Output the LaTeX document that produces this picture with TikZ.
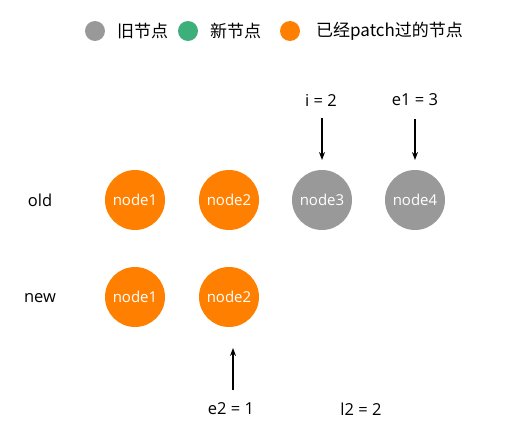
\documentclass[tikz,border=0pt]{standalone}
\usepackage{fontspec}
\setmainfont{Open Sans}
\newfontfamily\cjk{Noto Sans CJK SC}
\usetikzlibrary{arrows.meta}
\definecolor{oldgray}{HTML}{999999}
\definecolor{newgreen}{HTML}{3DAF7A}
\definecolor{patchorange}{HTML}{FF8000}
\begin{document}
\begin{tikzpicture}[x=1pt,y=-1pt,
  vnode/.style={circle,minimum size=60pt,inner sep=0pt,text=white,font=\fontsize{15}{16}\selectfont},
  patched/.style={vnode,fill=patchorange},
  oldnode/.style={vnode,fill=oldgray},
  lbl/.style={font=\fontsize{16.5}{17}\selectfont,inner sep=0pt},
  legdot/.style={circle,minimum size=20pt,inner sep=0pt},
  legtxt/.style={font=\cjk\fontsize{17}{18}\selectfont,anchor=west,inner sep=0pt},
  ptr/.style={-{Stealth[length=8pt,width=6pt]},line width=1.3pt}]
\useasboundingbox (0,0) rectangle (506,441);
% legend
\node[legdot,fill=oldgray] (lg1) at (95,31) {};
\node[legtxt] (lt1) at (117,31) {旧节点};
\node[legdot,fill=newgreen] (lg2) at (188,31) {};
\node[legtxt] (lt2) at (210,31) {新节点};
\node[legdot,fill=patchorange] (lg3) at (290,31) {};
\node[legtxt] (lt3) at (316,31) {已经patch过的节点};
% rows
\node[lbl] (old) at (40,200) {old};
\node[lbl] (new) at (40,298) {new};
\node[patched] (o1) at (135,200) {node1};
\node[patched] (o2) at (229,200) {node2};
\node[oldnode] (o3) at (322,200) {node3};
\node[oldnode] (o4) at (415,200) {node4};
\node[patched] (n1) at (135,297) {node1};
\node[patched] (n2) at (229,297) {node2};
% pointers
\node[lbl] (i) at (321,100) {i = 2};
\node[lbl] (e1) at (415,100) {e1 = 3};
\node[lbl] (e2) at (231,409) {e2 = 1};
\node[lbl] (l2) at (361,409) {l2 = 2};
\coordinate (itop) at (322,118);
\coordinate (ibot) at (322,160);
\coordinate (etop) at (415,119);
\coordinate (ebot) at (415,160);
\coordinate (e2bot) at (233,390);
\coordinate (e2top) at (233,348);
\draw[ptr] (itop) -- (ibot);
\draw[ptr] (etop) -- (ebot);
\draw[ptr] (e2bot) -- (e2top);
\end{tikzpicture}
\end{document}
